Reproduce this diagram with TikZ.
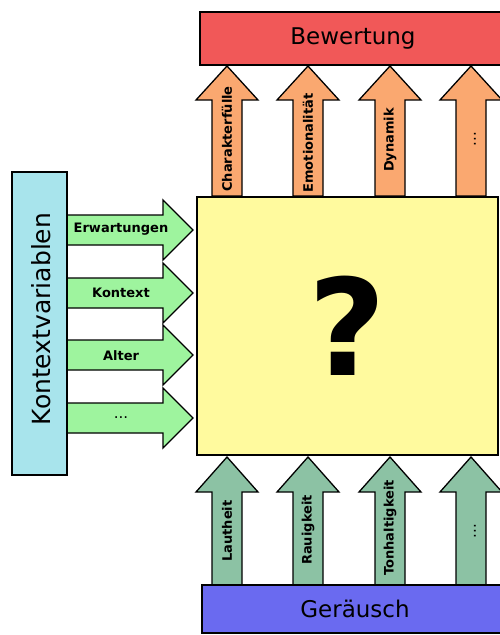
\documentclass[tikz,border=0pt]{standalone}
\usepackage{fontspec}
\setmainfont{DejaVu Sans}
\definecolor{cred}{RGB}{241,88,88}
\definecolor{corange}{RGB}{250,168,112}
\definecolor{cyellow}{RGB}{255,250,158}
\definecolor{cgreen}{RGB}{158,244,158}
\definecolor{ccyan}{RGB}{168,228,236}
\definecolor{csea}{RGB}{140,194,164}
\definecolor{cblue}{RGB}{106,106,240}
\tikzset{
  bigbox/.style={draw=black, line width=2.6pt, inner sep=0pt, outer sep=0pt},
  blockarr/.style={draw=black, line width=1.3pt, line join=miter},
  lbl/.style={font=\fontsize{13}{14}\selectfont\bfseries, inner sep=0pt},
  dots/.style={font=\fontsize{15}{16}\selectfont, inner sep=0pt},
  bigtxt/.style={font=\fontsize{23}{24}\selectfont}
}
\newcommand\myuparr[5]{% x, tip y, head base y, bottom y, colour
  \draw[blockarr, fill=#5] (#1-15,#4) -- (#1-15,#3) -- (#1-31,#3) -- (#1,#2)
    -- (#1+31,#3) -- (#1+15,#3) -- (#1+15,#4) -- cycle;}
\newcommand\myrightarr[2]{% y centre, colour
  \draw[blockarr, fill=#2] (66,#1-15) -- (163,#1-15) -- (163,#1-30) -- (193,#1)
    -- (163,#1+30) -- (163,#1+15) -- (66,#1+15) -- cycle;}
\begin{document}
\begin{tikzpicture}[x=1pt,y=-1pt]
\useasboundingbox (0,0) rectangle (500,635);
\clip (0,0) rectangle (500,635);
% orange arrows (top)
\foreach \xx in {227,308,390,471} {\myuparr{\xx}{66}{100}{196}{corange}}
\node[lbl, rotate=90] (l1) at (227,139) {Charakterfülle};
\node[lbl, rotate=90] (l2) at (308,143) {Emotionalität};
\node[lbl, rotate=90] (l3) at (390,140) {Dynamik};
\node[dots, rotate=90] (l4) at (475,139) {...};
% bottom arrows
\foreach \xx in {227,308,390,471} {\myuparr{\xx}{457}{492}{587}{csea}}
\node[lbl, rotate=90] (b1) at (227,531) {Lautheit};
\node[lbl, rotate=90] (b2) at (308,530) {Rauigkeit};
\node[lbl, rotate=90] (b3) at (390,528) {Tonhaltigkeit};
\node[dots, rotate=90] (b4) at (475,531) {...};
% left arrows
\foreach \yy in {230,293,355,418} {\myrightarr{\yy}{cgreen}}
\node[lbl] (k1) at (121,229) {Erwartungen};
\node[lbl] (k2) at (121,293) {Kontext};
\node[lbl] (k3) at (121,356) {Alter};
\node[dots] (k4) at (121,418) {...};
% boxes
\node[bigbox, fill=cred, minimum width=306pt, minimum height=53pt, anchor=north west, bigtxt] (bew) at (200,12) {Bewertung};
\node[bigbox, fill=cyellow, minimum width=301pt, minimum height=258pt, anchor=north west] (mid) at (197,197) {};
\node[font=\fontsize{134}{134}\selectfont\bfseries, inner sep=0pt] (q) at (347,326) {?};
\node[bigbox, fill=ccyan, minimum width=55pt, minimum height=303pt, anchor=north west] (kv) at (12,172) {};
\node[rotate=90, font=\fontsize{25}{26}\selectfont] (kvt) at (41,319) {Kontextvariablen};
\node[bigbox, fill=cblue, minimum width=306pt, minimum height=48pt, anchor=north west, bigtxt] (ger) at (202,585) {Geräusch};
\end{tikzpicture}
\end{document}
